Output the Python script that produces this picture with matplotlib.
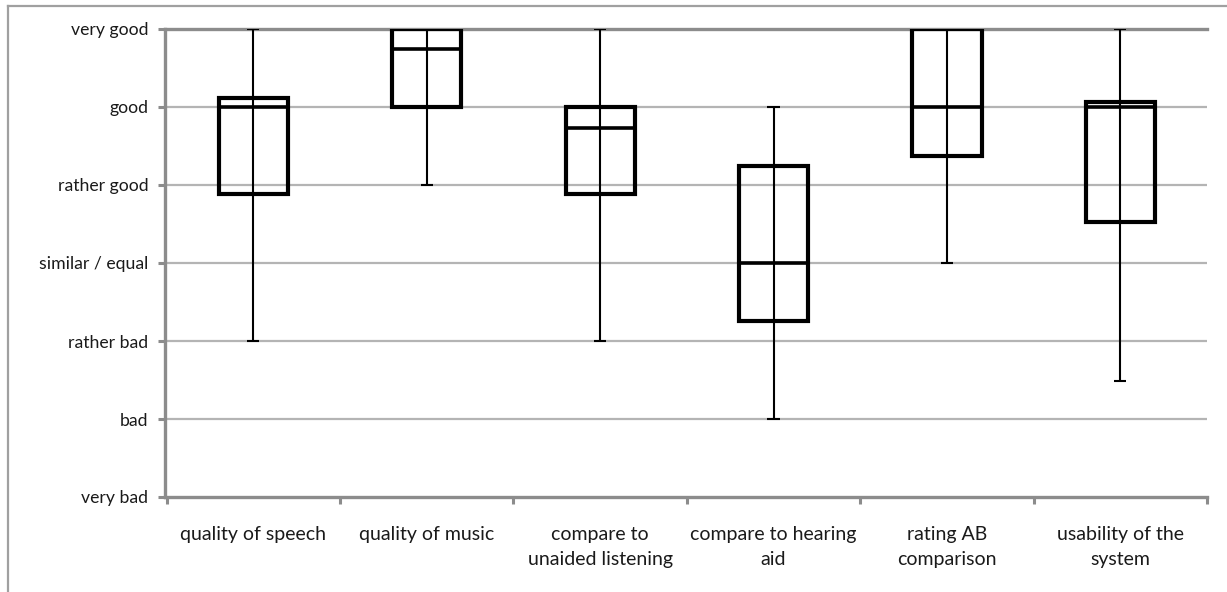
import numpy as np
import matplotlib
matplotlib.use("Agg")
import matplotlib.pyplot as plt
from matplotlib.lines import Line2D

# rating scale 0 = very bad ... 6 = very good
levels = ["very bad", "bad", "rather bad", "similar / equal",
          "rather good", "good", "very good"]
categories = ["quality of speech", "quality of music",
              "compare to\nunaided listening", "compare to hearing\naid",
              "rating AB\ncomparison", "usability of the\nsystem"]

whisk_lo = [2.0, 4.0, 2.0, 1.0, 3.0, 1.49]
q1 = [3.88, 5.0, 3.88, 2.26, 4.37, 3.52]
median = [5.0, 5.75, 4.73, 3.0, 5.0, 5.0]
q3 = [5.12, 6.0, 5.0, 4.24, 6.0, 5.07]
whisk_hi = [6.0, 6.0, 6.0, 5.0, 6.0, 6.0]

plt.rcParams["font.family"] = ["Lato", "DejaVu Sans"]

fig = plt.figure(figsize=(12.27, 5.92), dpi=100)
ax = fig.add_axes([165 / 1227, 1 - 497 / 592, (1207 - 165) / 1227, (497 - 29) / 592])

x = np.arange(len(categories))
axis_gray = "#8c8c8c"
grid_gray = "#b4b4b4"

# gridlines
for lv in range(1, 6):
    ax.axhline(lv, color=grid_gray, lw=1.6, zorder=1)

# whiskers go straight through the boxes
ax.vlines(x, whisk_lo, whisk_hi, color="black", lw=1.5, zorder=3)
ax.hlines(whisk_lo, x - 0.035, x + 0.035, color="black", lw=1.5, zorder=3)
ax.hlines(whisk_hi, x - 0.035, x + 0.035, color="black", lw=1.5, zorder=3)

heights = np.array(q3) - np.array(q1)
ax.bar(x, heights, bottom=q1, width=0.4, fill=False, edgecolor="black",
       linewidth=3, zorder=4)
ax.hlines(median, x - 0.2, x + 0.2, color="black", lw=2.6, zorder=4)

ax.set_xlim(-0.51, len(categories) - 0.51)
ax.set_ylim(0, 6)

ax.set_yticks(range(7))
ax.set_yticklabels(levels, fontsize=12.7, color="#1a1a1a")
ax.set_xticks(x)
ax.set_xticklabels(categories, fontsize=14, color="#1a1a1a", linespacing=1.55)
ax.set_xticks(np.arange(-0.5, len(categories)), minor=True)
ax.tick_params(axis="x", which="major", length=0, pad=21)
ax.tick_params(axis="x", which="minor", length=5, width=2.2, color=axis_gray)
ax.tick_params(axis="y", length=5, width=2.2, color=axis_gray, pad=7)

for side in ["left", "bottom", "top"]:
    ax.spines[side].set_color(axis_gray)
    ax.spines[side].set_linewidth(2.4)
ax.spines["right"].set_visible(False)

# outer frame of the picture
fig.add_artist(Line2D([8 / 1227, 1.0], [1 - 6 / 592, 1 - 6 / 592],
                      transform=fig.transFigure, color="#a0a0a0", lw=1.6))
fig.add_artist(Line2D([8 / 1227, 8 / 1227], [0.0, 1 - 6 / 592],
                      transform=fig.transFigure, color="#a0a0a0", lw=1.6))

fig.savefig("out.png", dpi=100)
